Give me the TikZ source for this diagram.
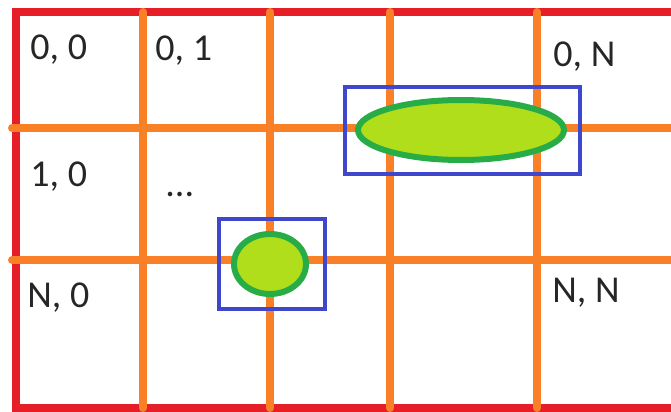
\documentclass[tikz,border=0pt]{standalone}
\usepackage{fontspec}
\usepackage{tikz}
\usetikzlibrary{positioning}
\newfontfamily\cellfont{Carlito}
\definecolor{paintred}{RGB}{230,30,40}
\definecolor{paintorange}{RGB}{250,128,40}
\definecolor{paintblue}{RGB}{63,72,204}
\definecolor{paintgreen}{RGB}{40,172,72}
\definecolor{paintlime}{RGB}{176,222,26}

\begin{document}
\begin{tikzpicture}[x=0.5pt, y=-0.5pt,
    border/.style={draw=paintred, line width=4pt},
    gridline/.style={draw=paintorange, line width=4pt, line cap=round},
    window/.style={draw=paintblue, line width=2pt},
    blob/.style={draw=paintgreen, fill=paintlime, line width=3pt},
    cell/.style={font=\cellfont\fontsize{19}{23}\selectfont, anchor=base west, inner sep=0pt, text=black!85}
  ]
    \useasboundingbox (0,0) rectangle (671,412);
    \clip (0,0) rectangle (671,412);

    % Outer frame
    \draw[border] (15.5,12) rectangle (700,408);

    % Grid lines
    \foreach \x in {143,270,390,537}
      \draw[gridline] (\x,12) -- (\x,408);
    \foreach \y in {128,260}
      \draw[gridline] (12,\y) -- (700,\y);

    % Cell labels
    \node[cell] (c00) at (30,60) {0, 0};
    \node[cell] (c01) at (155,61) {0, 1};
    \node[cell] (c0n) at (553,67) {0, N};
    \node[cell] (c10) at (30,186) {1, 0};
    \node[cell] (cdots) at (165,197) {...};
    \node[cell] (cn0) at (27,307) {N, 0};
    \node[cell] (cnn) at (552,302) {N, N};

    % Objects and their boxes
    \draw[window] (345,87) rectangle (580,174);
    \draw[blob] (461,130) ellipse [x radius=103, y radius=30];

    \draw[window] (219,219) rectangle (325,309);
    \draw[blob] (270,264) ellipse [x radius=36, y radius=30];
\end{tikzpicture}
\end{document}
